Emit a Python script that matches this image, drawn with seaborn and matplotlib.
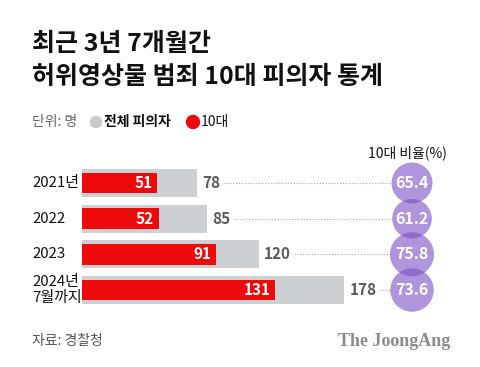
import numpy as np
import pandas as pd
import matplotlib
matplotlib.use("Agg")
import matplotlib.pyplot as plt
import matplotlib.transforms as mtransforms
import seaborn as sns

years = ["2021년", "2022", "2023", "2024년\n7월까지"]
total = [78, 85, 120, 178]
teen = [51, 52, 91, 131]
ratio = [65.4, 61.2, 75.8, 73.6]

sns.set_theme(style="white")
plt.rcParams['font.family'] = ['Noto Sans CJK KR', 'DejaVu Sans']

W, H = 480, 367
fig = plt.figure(figsize=(W / 100, H / 100), dpi=100)
fig.patch.set_facecolor("white")

def fx(px):
    return px / W

def fy(py):
    return 1 - py / H

ax_left, ax_right = 82, 460
row_top, row_bot = 183, 290
spacing = (row_bot - row_top) / 3
ax_top = row_top - spacing / 2
ax_bottom = row_bot + spacing / 2
ax = fig.add_axes([fx(ax_left), fy(ax_bottom), (ax_right - ax_left) / W, (ax_bottom - ax_top) / H])
ppu = 1.474  # px per unit
xmax = (ax_right - ax_left) / ppu

df = pd.DataFrame({"year": years, "total": total, "teen": teen, "ratio": ratio})

gray = "#cdd0d3"
red = "#ee0a0a"
purple = "#7a4fc4"

sns.barplot(data=df, x="total", y="year", orient="h", color=gray, width=0.78,
            saturation=1, ax=ax, zorder=1, linewidth=0)
sns.barplot(data=df, x="teen", y="year", orient="h", color=red, width=0.58,
            saturation=1, ax=ax, zorder=2, linewidth=0)

ax.set_xlim(0, xmax)
ax.set_ylim(3.5, -0.5)
ax.axis("off")

circle_x = (412 - ax_left) / ppu

for i, (t, r, tv) in enumerate(zip(total, ratio, teen)):
    ax.text(tv - 4.5 / ppu, i, str(tv), ha="right", va="center", color="white",
            fontsize=11, fontweight="bold")
    ax.text(t + 5 / ppu, i, str(t), ha="left", va="center", color="#5a5a5a",
            fontsize=11, fontweight="bold")
    nd = len(str(t))
    start = t + (5 + nd * 8.5 + 5) / ppu
    r_px = 20.5 * np.sqrt(r / 65.4)
    end = circle_x - r_px / ppu
    ax.plot([start, end], [i, i], color="#aaaaaa", lw=0.8, ls=(0, (1, 1.6)), zorder=0)

sizes = [(2 * 20.5 * np.sqrt(r / 65.4) * 72 / 100) ** 2 for r in ratio]
ax.scatter([circle_x] * 4, list(range(4)), s=sizes, color=purple, alpha=0.6,
           edgecolors="none", clip_on=False, zorder=3)
for i, r in enumerate(ratio):
    ax.text(circle_x, i, f"{r}", ha="center", va="center", color="white",
            fontsize=11.5, fontweight="bold", zorder=4)

tr = mtransforms.blended_transform_factory(fig.transFigure, ax.transData)
for i, y in enumerate(years):
    ax.text(fx(32), i, y, transform=tr, ha="left", va="center", fontsize=10.8,
            color="#111111", linespacing=1.1)

fig.text(fx(32), fy(44), "최근 3년 7개월간", fontsize=18, fontweight="bold",
         ha="left", va="center", color="#111111")
fig.text(fx(32), fy(77), "허위영상물 범죄 10대 피의자 통계", fontsize=18, fontweight="bold",
         ha="left", va="center", color="#111111")

ly = 122
fig.text(fx(32), fy(ly), "단위: 명", fontsize=10, ha="left", va="center", color="#666666")
fig.patches.append(matplotlib.patches.Ellipse((fx(96), fy(ly)), 11 / W, 11 / H,
                                              transform=fig.transFigure, color="#c8cbcd"))
fig.text(fx(104), fy(ly), "전체 피의자", fontsize=10, ha="left", va="center",
         color="#111111", fontweight="bold")
fig.patches.append(matplotlib.patches.Ellipse((fx(193), fy(ly)), 13 / W, 13 / H,
                                              transform=fig.transFigure, color=red))
fig.text(fx(201), fy(ly), "10대", fontsize=10, ha="left", va="center", color="#111111")

fig.text(fx(407), fy(153), "10대 비율(%)", fontsize=10, ha="center", va="center", color="#111111")

fig.text(fx(32), fy(341), "자료: 경찰청", fontsize=10, ha="left", va="center", color="#555555")
fig.text(fx(450), fy(341), "The JoongAng", fontsize=13, ha="right", va="center",
         color="#8a8a8a", fontweight="bold", family=["Liberation Serif", "DejaVu Serif"])

fig.savefig("out.png", dpi=100, facecolor="white")
